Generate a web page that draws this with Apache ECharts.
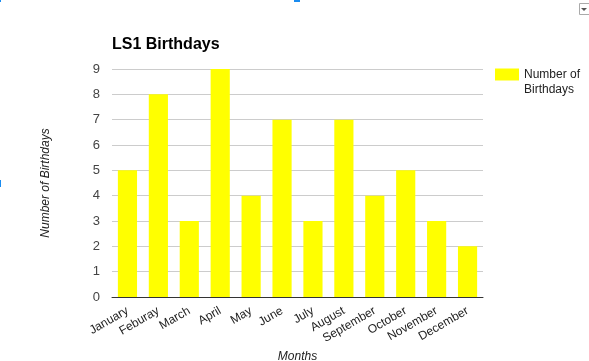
<!DOCTYPE html>
<html>
<head>
<meta charset="utf-8">
<script src="https://cdn.jsdelivr.net/npm/echarts@6/dist/echarts.min.js"></script>
<style>
html,body{margin:0;padding:0;background:#fff;}
#c{width:589px;height:361px;}
</style>
</head>
<body>
<div id="c"></div>
<script>
const categories = ['January','Feburay','March','April','May','June','July','August','September','October','November','December'];
const birthdays = [5, 8, 3, 9, 4, 7, 3, 7, 4, 5, 3, 2];
const yTicks = [0, 9, 1];
const seriesName = 'Number of Birthdays';

const chart = echarts.init(document.getElementById('c'), null, {renderer: 'canvas'});
const FONT = 'Liberation Sans, Arial, sans-serif';
chart.setOption({
  animation: false,
  backgroundColor: '#ffffff',
  title: {
    text: 'LS1 Birthdays',
    left: 107, top: 32,
    textStyle: {fontFamily: FONT, fontSize: 16, fontWeight: 'bold', color: '#000'}
  },
  legend: {
    left: 490, top: 47,
    itemWidth: 24, itemHeight: 12, itemGap: 0,
    icon: 'rect',
    orient: 'vertical',
    formatter: () => '\nNumber of\nBirthdays',
    textStyle: {fontFamily: FONT, fontSize: 12, color: '#222', lineHeight: 15}
  },
  grid: {left: 112, right: 106, top: 69, bottom: 64, containLabel: false, outerBoundsMode: 'none'},
  xAxis: {
    type: 'category',
    data: categories,
    name: 'Months',
    nameLocation: 'middle',
    nameGap: 54,
    nameTextStyle: {fontFamily: FONT, fontSize: 12, fontStyle: 'italic', color: '#222'},
    axisLine: {lineStyle: {color: '#333', width: 1}},
    axisTick: {show: false},
    axisLabel: {rotate: 30, interval: 0, margin: 13, fontFamily: FONT, fontSize: 12, color: '#222'}
  },
  yAxis: {
    type: 'value',
    min: yTicks[0], max: yTicks[1], interval: yTicks[2],
    name: 'Number of Birthdays',
    nameLocation: 'middle',
    nameGap: 60,
    nameRotate: 90,
    nameTextStyle: {fontFamily: FONT, fontSize: 12, fontStyle: 'italic', color: '#222'},
    axisLine: {show: false},
    axisTick: {show: false},
    splitLine: {lineStyle: {color: '#cccccc', width: 1}},
    axisLabel: {margin: 12, fontFamily: FONT, fontSize: 13, color: '#444'}
  },
  series: [{
    name: seriesName,
    type: 'bar',
    data: birthdays,
    barCategoryGap: '38%',
    itemStyle: {color: '#ffff00'}
  }],
  graphic: [
    {type: 'rect', shape: {x: 0, y: 0, width: 1, height: 2}, style: {fill: '#1a8cf0'}},
    {type: 'rect', shape: {x: 294, y: 0, width: 6, height: 2}, style: {fill: '#1a8cf0'}},
    {type: 'rect', shape: {x: 0, y: 180, width: 1, height: 7}, style: {fill: '#1a8cf0'}},
    {type: 'rect', shape: {x: 579.5, y: 3.5, width: 10, height: 11}, style: {fill: '#fff', stroke: '#aaa', lineWidth: 1}},
    {type: 'polygon', shape: {points: [[581, 8], [587, 8], [584, 11]]}, style: {fill: '#555'}}
  ]
});
</script>
</body>
</html>
